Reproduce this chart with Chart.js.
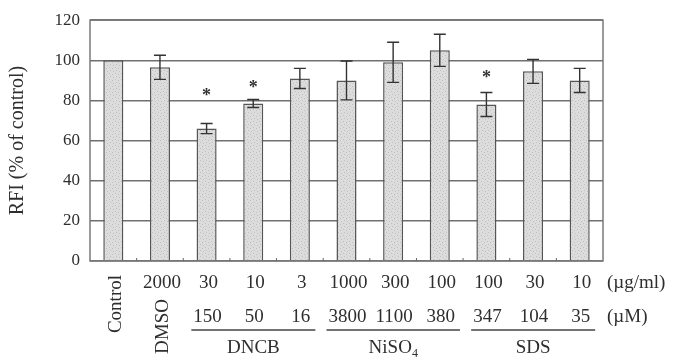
<!DOCTYPE html>
<html><head><meta charset="utf-8">
<script src="https://cdn.jsdelivr.net/npm/chart.js@4/dist/chart.umd.min.js"></script>
<style>html,body{margin:0;padding:0;background:#fff}#w{width:677px;height:358px;position:relative}</style>
</head><body><div id="w"><canvas id="c"></canvas></div>
<script>
const categories = ['Control','DMSO','DNCB 30','DNCB 10','DNCB 3','NiSO4 1000','NiSO4 300','NiSO4 100','SDS 100','SDS 30','SDS 10'];
const rfiMean  = [100, 96.5, 66, 78.5, 91, 90, 99, 105, 78, 94.5, 90];
const rfiError = [0, 6, 2.5, 2, 5, 9.7, 10, 8, 6, 6, 6];
const starLevel = [null, null, 84, 88, null, null, null, null, 93, null, null];
const doseUgMl = ['', '2000', '30', '10', '3', '1000', '300', '100', '100', '30', '10'];
const doseUM   = ['', '', '150', '50', '16', '3800', '1100', '380', '347', '104', '35'];
const rotatedLabels = ['Control', 'DMSO', '', '', '', '', '', '', '', '', ''];
const groupNames = ['DNCB', 'NiSO', 'SDS'];
const groupSub = ['', '4', ''];
const groupFirst = [2, 5, 8];
const groupLast = [4, 7, 10];
const unitLabels = ['(\u00b5g/ml)', '(\u00b5M)'];
const yTicks = [0, 20, 40, 60, 80, 100, 120];

const SERIF = '"Liberation Serif", "Times New Roman", serif';
const TXT = '#2e2e2e';
const XF = 19;

function stipple() {
  const c = document.createElement('canvas');
  c.width = 6; c.height = 6;
  const g = c.getContext('2d');
  g.fillStyle = '#dcdcdc'; g.fillRect(0, 0, 6, 6);
  g.fillStyle = '#c0c0c0';
  g.fillRect(1, 1, 1, 1); g.fillRect(4, 2, 1, 1); g.fillRect(2, 4, 1, 1); g.fillRect(5, 5, 1, 1);
  return g.createPattern(c, 'repeat');
}

const overlay = {
  id: 'overlay',
  afterDatasetsDraw(chart) {
    const ctx = chart.ctx, xs = chart.scales.x, ys = chart.scales.y, a = chart.chartArea;
    ctx.save();
    // frame
    ctx.strokeStyle = '#7a7a7a'; ctx.lineWidth = 1.5;
    ctx.strokeRect(a.left, a.top, a.right - a.left, a.bottom - a.top);
    // boundary ticks
    ctx.strokeStyle = '#666'; ctx.lineWidth = 1;
    for (let i = 1; i < categories.length; i++) {
      const x = (xs.getPixelForValue(i - 1) + xs.getPixelForValue(i)) / 2;
      ctx.beginPath(); ctx.moveTo(x, a.bottom); ctx.lineTo(x, a.bottom - 3); ctx.stroke();
    }
    // error bars
    ctx.strokeStyle = '#333'; ctx.lineWidth = 1.4;
    rfiMean.forEach((m, i) => {
      const e = rfiError[i];
      if (!e) return;
      const x = xs.getPixelForValue(i);
      const yT = ys.getPixelForValue(m + e), yB = ys.getPixelForValue(m - e);
      ctx.beginPath();
      ctx.moveTo(x, yT); ctx.lineTo(x, yB);
      ctx.moveTo(x - 6, yT); ctx.lineTo(x + 6, yT);
      ctx.moveTo(x - 6, yB); ctx.lineTo(x + 6, yB);
      ctx.stroke();
    });
    // significance stars
    ctx.fillStyle = '#333';
    ctx.font = 'bold 18px ' + SERIF;
    ctx.textAlign = 'center'; ctx.textBaseline = 'middle';
    starLevel.forEach((v, i) => {
      if (v == null) return;
      ctx.fillText('*', xs.getPixelForValue(i), ys.getPixelForValue(v) + 4);
    });
    // x labels
    const b = a.bottom;
    ctx.fillStyle = TXT;
    ctx.font = XF + 'px ' + SERIF;
    ctx.textAlign = 'center'; ctx.textBaseline = 'middle';
    doseUgMl.forEach((t, i) => { if (t) ctx.fillText(t, xs.getPixelForValue(i) + 2, b + 22); });
    doseUM.forEach((t, i) => { if (t) ctx.fillText(t, xs.getPixelForValue(i) + 1, b + 56); });
    ctx.textAlign = 'left';
    ctx.fillText(unitLabels[0], 607, b + 22);
    ctx.fillText(unitLabels[1], 607, b + 56);
    // rotated labels
    rotatedLabels.forEach((t, i) => {
      if (!t) return;
      ctx.save();
      ctx.translate(xs.getPixelForValue(i) + 3, i === 0 ? b + 14 : b + 38);
      ctx.rotate(-Math.PI / 2);
      ctx.textAlign = 'right'; ctx.textBaseline = 'middle';
      ctx.fillText(t, 0, 0);
      ctx.restore();
    });
    // group underlines and names
    ctx.strokeStyle = '#444'; ctx.lineWidth = 1.3;
    groupNames.forEach((n, k) => {
      ctx.font = XF + 'px ' + SERIF;
      const x1 = xs.getPixelForValue(groupFirst[k]), x2 = xs.getPixelForValue(groupLast[k]);
      const w1 = ctx.measureText(doseUM[groupFirst[k]]).width;
      const w2 = ctx.measureText(doseUM[groupLast[k]]).width;
      const l = x1 - w1 / 2 - 1, r = Math.min(x2 + w2 / 2 + 6, a.right);
      ctx.beginPath(); ctx.moveTo(l, b + 69); ctx.lineTo(r, b + 69); ctx.stroke();
      const cx = (l + r) / 2;
      const wn = ctx.measureText(n).width;
      ctx.font = '12px ' + SERIF;
      const ws = groupSub[k] ? ctx.measureText(groupSub[k]).width : 0;
      const sx = cx - (wn + ws) / 2;
      ctx.textAlign = 'left';
      ctx.font = XF + 'px ' + SERIF;
      ctx.fillText(n, sx, b + 87);
      if (groupSub[k]) { ctx.font = '12px ' + SERIF; ctx.fillText(groupSub[k], sx + wn, b + 93); }
    });
    ctx.restore();
  }
};

new Chart(document.getElementById('c'), {
  type: 'bar',
  data: {
    labels: categories,
    datasets: [{
      data: rfiMean,
      backgroundColor: stipple(),
      borderColor: '#555',
      borderWidth: 1.5,
      barPercentage: 0.43,
      categoryPercentage: 1
    }]
  },
  options: {
    responsive: true, maintainAspectRatio: false, animation: false,
    layout: { padding: { top: 17, right: 74, bottom: 97, left: 0 } },
    plugins: { legend: { display: false }, tooltip: { enabled: false } },
    scales: {
      x: {
        grid: { display: false }, border: { display: false },
        ticks: { display: false },
        afterFit(s) { s.height = 0; }
      },
      y: {
        min: 0, max: 120,
        afterFit(s) { s.width = 90; },
        afterBuildTicks(s) { s.ticks = yTicks.map(v => ({ value: v })); },
        grid: { color: '#707070', lineWidth: 1.5, drawTicks: false },
        border: { display: false },
        ticks: { padding: 10, color: TXT, font: { family: SERIF, size: 17 } },
        title: { display: true, text: 'RFI (% of control)', color: TXT, font: { family: SERIF, size: 20 }, padding: { top: 6, bottom: 0 } }
      }
    }
  },
  plugins: [overlay]
});
</script>
</body></html>
